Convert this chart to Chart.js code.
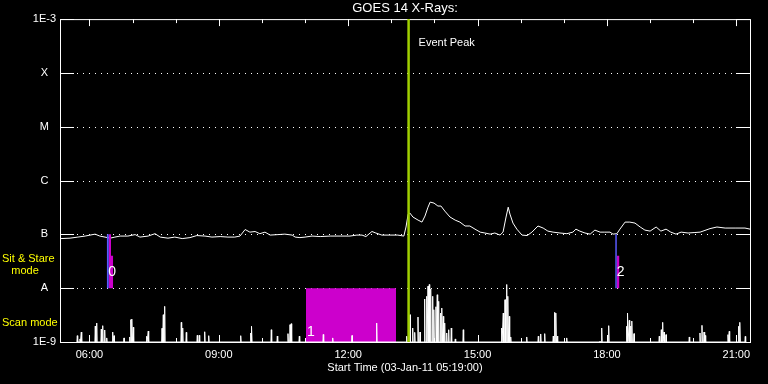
<!DOCTYPE html>
<html>
<head>
<meta charset="utf-8">
<title>GOES 14 X-Rays</title>
<script src="https://cdn.jsdelivr.net/npm/chart.js@4.4.1/dist/chart.umd.min.js"></script>
<style>
  html, body { margin: 0; padding: 0; background: #000; }
  #wrap { width: 768px; height: 384px; }
</style>
</head>
<body>
<div id="wrap"><canvas id="goesChart" width="768" height="384"></canvas></div>
<script>
// time axis in decimal hours (UT, 03-Jan-2011), flux in W/m^2
const startHour = 5 + 19 / 60;
const endHour = startHour + 16;

const xTickHours = [6, 9, 12, 15, 18, 21];
const yTickValues = [1e-9, 1e-8, 1e-7, 1e-6, 1e-5, 1e-4, 1e-3];
const yTickLabels = ['1E-9', 'A', 'B', 'C', 'M', 'X', '1E-3'];

// GOES long channel
const goesTime = [5.34, 5.55, 5.73, 5.90, 6.13, 6.24, 6.36, 6.48, 6.59, 6.71, 6.89, 7.06, 7.17, 7.36, 7.52, 7.64,
  7.82, 7.98, 8.15, 8.33, 8.49, 8.68, 8.84, 9.03, 9.21, 9.37, 9.49, 9.61, 9.72, 9.84, 9.95, 10.07, 10.19, 10.37,
  10.53, 10.70, 10.77, 10.88, 11.00, 11.16, 11.35, 11.58, 11.81, 12.04, 12.20, 12.32, 12.41, 12.55, 12.64, 12.78,
  12.97, 13.15, 13.29, 13.34, 13.39, 13.43, 13.50, 13.62, 13.71, 13.78, 13.85, 13.90, 13.99, 14.08, 14.15, 14.24,
  14.36, 14.48, 14.59, 14.71, 14.82, 14.94, 15.06, 15.17, 15.29, 15.40, 15.52, 15.59, 15.66, 15.71, 15.75, 15.82,
  15.91, 16.03, 16.15, 16.26, 16.40, 16.52, 16.63, 16.75, 16.91, 17.07, 17.21, 17.28, 17.37, 17.49, 17.61, 17.72,
  17.84, 17.95, 18.07, 18.14, 18.23, 18.30, 18.42, 18.53, 18.65, 18.77, 18.88, 19.00, 19.14, 19.25, 19.37, 19.48,
  19.60, 19.72, 19.88, 20.02, 20.16, 20.39, 20.55, 20.74, 20.97, 21.20, 21.32];
const goesFlux = [8.35e-8, 8.5e-8, 8.9e-8, 9.3e-8, 1.01e-7, 9.3e-8, 8.9e-8, 8.5e-8, 8.9e-8, 9.3e-8, 9.3e-8, 9.9e-8,
  8.9e-8, 9.3e-8, 1.03e-7, 8.9e-8, 8.5e-8, 8.9e-8, 8.35e-8, 8.7e-8, 9.5e-8, 9.3e-8, 8.9e-8, 9.1e-8, 8.9e-8, 8.9e-8,
  9.3e-8, 1.23e-7, 1.10e-7, 1.13e-7, 1.03e-7, 1.10e-7, 9.7e-8, 9.9e-8, 1.01e-7, 9.7e-8, 8.9e-8, 8.7e-8, 8.9e-8,
  9.3e-8, 9.1e-8, 9.3e-8, 9.3e-8, 9.3e-8, 9.7e-8, 9.7e-8, 9.1e-8, 1.13e-7, 1.06e-7, 9.7e-8, 9.7e-8, 9.7e-8, 9.3e-8,
  1.37e-7, 2.38e-7, 2.49e-7, 2.10e-7, 1.84e-7, 1.69e-7, 2.19e-7, 3.2e-7, 3.98e-7, 3.81e-7, 3.36e-7, 3.36e-7,
  2.71e-7, 2.10e-7, 1.84e-7, 1.69e-7, 1.43e-7, 1.43e-7, 1.25e-7, 1.10e-7, 1.06e-7, 1.01e-7, 1.06e-7, 9.7e-8,
  1.10e-7, 2.10e-7, 3.2e-7, 2.38e-7, 1.62e-7, 1.25e-7, 9.7e-8, 9.5e-8, 1.10e-7, 1.43e-7, 1.31e-7, 1.15e-7,
  1.10e-7, 1.06e-7, 1.03e-7, 1.10e-7, 1.25e-7, 1.15e-7, 1.06e-7, 1.01e-7, 1.20e-7, 1.10e-7, 1.10e-7, 1.10e-7,
  1.01e-7, 1.03e-7, 1.25e-7, 1.69e-7, 1.69e-7, 1.62e-7, 1.37e-7, 1.20e-7, 1.15e-7, 1.37e-7, 1.15e-7, 1.25e-7,
  1.10e-7, 1.01e-7, 1.10e-7, 1.06e-7, 1.08e-7, 1.10e-7, 1.28e-7, 1.37e-7, 1.31e-7, 1.31e-7, 1.31e-7, 1.25e-7];

// scan mode trace (peaks above the 1E-9 floor)
const scanTime = [5.718, 5.780, 5.811, 6.135, 6.168, 6.274, 6.307, 6.353, 6.400, 6.539, 6.569, 6.801, 6.933, 6.963,
  6.986, 7.016, 7.327, 7.364, 7.682, 7.712, 7.744, 8.129, 8.162, 8.245, 8.500, 8.547, 8.672, 8.765, 9.507, 9.739,
  9.762, 10.216, 10.356, 10.603, 10.650, 10.680, 10.866, 11.422, 11.640, 12.088, 12.660, 13.356, 13.433, 13.495,
  13.542, 13.618, 13.665, 13.773, 13.820, 13.850, 13.880, 13.913, 13.959, 13.989, 14.035, 14.065, 14.098, 14.144,
  14.174, 14.205, 14.237, 14.284, 14.330, 14.390, 14.483, 14.668, 15.559, 15.596, 15.636, 15.675, 15.705, 15.735,
  15.768, 16.139, 16.408, 16.463, 16.556, 16.755, 16.788, 16.818, 16.848, 17.066, 17.838, 17.878, 18.040, 18.457,
  18.481, 18.518, 18.550, 18.580, 18.627, 19.213, 19.260, 19.292, 19.323, 19.369, 19.909, 20.157, 20.203, 20.250,
  20.280, 20.806, 20.836, 21.054, 21.084, 21.207];
const scanPeak = [1.31e-9, 1.14e-9, 1.53e-9, 1.98e-9, 2.25e-9, 1.74e-9, 2.01e-9, 1.67e-9, 1.19e-9, 1.53e-9, 1.31e-9,
  1.19e-9, 1.24e-9, 2.60e-9, 2.67e-9, 1.88e-9, 1.28e-9, 1.60e-9, 1.80e-9, 3.21e-9, 4.60e-9, 2.32e-9, 1.82e-9,
  1.51e-9, 1.33e-9, 1.33e-9, 1.55e-9, 1.31e-9, 1.31e-9, 1.47e-9, 1.96e-9, 1.69e-9, 1.29e-9, 1.43e-9, 2.10e-9,
  2.19e-9, 1.28e-9, 1.38e-9, 1.19e-9, 1.32e-9, 2.25e-9, 1.28e-9, 3.21e-9, 1.82e-9, 1.51e-9, 2.91e-9, 1.53e-9,
  6.29e-9, 7.07e-9, 1.09e-8, 1.17e-8, 9.67e-9, 7.07e-9, 3.98e-9, 4.52e-9, 7.55e-9, 5.70e-9, 3.45e-9, 4.27e-9,
  3.00e-9, 2.25e-9, 1.47e-9, 1.69e-9, 1.82e-9, 1.14e-9, 1.69e-9, 1.82e-9, 3.45e-9, 6.11e-9, 1.17e-8, 7.07e-9,
  3.00e-9, 1.24e-9, 1.24e-9, 1.28e-9, 1.41e-9, 1.43e-9, 1.29e-9, 3.56e-9, 3.45e-9, 1.29e-9, 1.19e-9, 1.04e-9,
  1.82e-9, 2.01e-9, 1.96e-9, 3.45e-9, 2.53e-9, 1.98e-9, 2.45e-9, 1.43e-9, 1.28e-9, 1.69e-9, 2.32e-9, 1.53e-9,
  1.37e-9, 1.24e-9, 1.47e-9, 2.04e-9, 1.53e-9, 1.32e-9, 1.37e-9, 1.58e-9, 1.96e-9, 2.32e-9, 1.27e-9];
const scanFloor = 1e-9;

const eventPeakHour = 13.40;
const scanBlock = [11.02, 13.11];   // scan mode period "1"
const scanBlockTop = 1e-8;

// sit & stare periods "0" and "2"
const stareLabels = ['0', '2'];
const stareBlueStart = [6.40, 18.19];
const stareBlueEnd = [6.45, 18.23];
const stareTop = 1e-7;
const stareFloor = 1e-8;
const stare0MagentaTime = [6.45, 6.50, 6.55];
const stare0MagentaTop = [1e-7, 4e-8, 4e-8];
const stare2MagentaTime = [18.23, 18.29];
const stare2MagentaTop = [4e-8, 4e-8];

const BLUE = '#5a5aff';
const MAGENTA = '#cc00cc';
const YELLOW = '#ffff00';
const PEAK = '#a0d000';
const FONT = "'Liberation Sans', Arial, sans-serif";

Chart.defaults.color = '#ffffff';
Chart.defaults.font.family = FONT;
Chart.defaults.font.size = 11;

const pts = (xs, ys) => xs.map((t, i) => ({x: t, y: ys[i]}));

const scanPoints = [];
scanTime.forEach((t, i) => {
    scanPoints.push({x: t - 0.009, y: scanFloor}, {x: t, y: scanPeak[i]}, {x: t + 0.009, y: scanFloor});
});

const blueSets = stareBlueStart.map((s, i) => ({
    data: [{x: s, y: stareTop}, {x: stareBlueEnd[i], y: stareTop}],
    borderWidth: 0,
    backgroundColor: BLUE,
    fill: {value: stareFloor}
}));

// axes frame, level lines, ticks and in-plot labels
const goesFrame = {
    id: 'goesFrame',
    beforeDatasetsDraw(chart) {
        const {ctx, chartArea: a, scales: {x, y}} = chart;
        ctx.save();
        ctx.strokeStyle = '#ffffff';
        ctx.lineWidth = 1;
        yTickValues.forEach((v, i) => {
            const py = Math.round(y.getPixelForValue(v)) + 0.5;
            ctx.setLineDash([]);
            ctx.beginPath();
            ctx.moveTo(a.left, py); ctx.lineTo(a.left + 14, py);
            ctx.moveTo(a.right - 14, py); ctx.lineTo(a.right, py);
            ctx.stroke();
            if (i > 0 && i < yTickValues.length - 1) {
                ctx.setLineDash([1, 5]);
                ctx.beginPath();
                ctx.moveTo(a.left + 17, py); ctx.lineTo(a.right - 14, py);
                ctx.stroke();
            }
        });
        ctx.setLineDash([]);
        for (let h = Math.ceil(startHour); h <= endHour; h++) {
            const px = Math.round(x.getPixelForValue(h)) + 0.5;
            const len = h % 3 === 0 ? 7 : 4;
            ctx.beginPath();
            ctx.moveTo(px, a.top); ctx.lineTo(px, a.top + len);
            ctx.moveTo(px, a.bottom); ctx.lineTo(px, a.bottom - len);
            ctx.stroke();
        }
        ctx.strokeRect(a.left + 0.5, a.top + 0.5, a.right - a.left, a.bottom - a.top);
        ctx.restore();
    },
    afterDraw(chart) {
        const {ctx, chartArea: a, scales: {x, y}} = chart;
        const yA = y.getPixelForValue(1e-8);
        ctx.save();
        ctx.font = '11px ' + FONT;
        ctx.textBaseline = 'middle';
        ctx.fillStyle = YELLOW;
        ctx.textAlign = 'left';
        ctx.fillText('Sit & Stare', 2, yA - 29.5);
        ctx.fillText('Scan mode', 2, a.bottom - 19);
        ctx.textAlign = 'center';
        ctx.fillText('mode', 25, yA - 17.5);

        ctx.fillStyle = '#ffffff';
        ctx.textAlign = 'left';
        ctx.fillText('Event Peak', x.getPixelForValue(eventPeakHour) + 10, a.top + 24);

        ctx.font = '14px ' + FONT;
        ctx.textAlign = 'center';
        stareLabels.forEach((lab, i) => {
            ctx.fillText(lab, x.getPixelForValue(stareBlueStart[i]) + 5.5, yA - 16);
        });
        ctx.fillText('1', x.getPixelForValue(scanBlock[0]) + 5, a.bottom - 9.5);
        ctx.restore();
    }
};

const ctx = document.getElementById('goesChart').getContext('2d');
new Chart(ctx, {
    type: 'line',
    data: {
        datasets: [{
            // event peak marker
            data: [{x: eventPeakHour, y: yTickValues[0]}, {x: eventPeakHour, y: yTickValues[6]}],
            borderColor: PEAK,
            borderWidth: 2.5
        }, ...blueSets, {
            data: pts(stare0MagentaTime, stare0MagentaTop),
            stepped: true,
            borderWidth: 0,
            backgroundColor: MAGENTA,
            fill: {value: stareFloor}
        }, {
            data: pts(stare2MagentaTime, stare2MagentaTop),
            stepped: true,
            borderWidth: 0,
            backgroundColor: MAGENTA,
            fill: {value: stareFloor}
        }, {
            // GOES 1-8 A flux
            data: pts(goesTime, goesFlux),
            borderColor: '#ffffff',
            borderWidth: 1
        }, {
            // scan mode counts
            data: scanPoints,
            borderColor: '#ffffff',
            borderWidth: 1
        }, {
            data: [{x: scanBlock[0], y: scanBlockTop}, {x: scanBlock[1], y: scanBlockTop}],
            borderWidth: 0,
            backgroundColor: MAGENTA,
            fill: {value: scanFloor}
        }]
    },
    options: {
        responsive: false,
        animation: false,
        events: [],
        layout: {padding: {left: 0, right: 18, top: 0, bottom: 0}},
        elements: {
            point: {radius: 0},
            line: {tension: 0}
        },
        plugins: {
            legend: {display: false},
            tooltip: {enabled: false},
            title: {
                display: true,
                text: 'GOES 14 X-Rays:',
                color: '#ffffff',
                fullSize: false,
                font: {size: 13, weight: 'normal'},
                padding: {top: 1, bottom: 2.5}
            }
        },
        scales: {
            x: {
                type: 'linear',
                min: startHour,
                max: endHour,
                grid: {display: false, drawTicks: false},
                border: {display: false},
                afterBuildTicks: s => { s.ticks = xTickHours.map(h => ({value: h})); },
                afterFit: s => { s.height = 42; },
                ticks: {
                    autoSkip: false,
                    maxRotation: 0,
                    padding: 6,
                    color: '#ffffff',
                    callback: v => String(v).padStart(2, '0') + ':00'
                },
                title: {
                    display: true,
                    text: 'Start Time (03-Jan-11 05:19:00)',
                    color: '#ffffff',
                    font: {size: 11},
                    padding: {top: 0, bottom: 9}
                }
            },
            y: {
                type: 'logarithmic',
                min: yTickValues[0],
                max: yTickValues[yTickValues.length - 1],
                grid: {display: false, drawTicks: false},
                border: {display: false},
                afterBuildTicks: s => { s.ticks = yTickValues.map(v => ({value: v})); },
                afterFit: s => { s.width = 60; },
                ticks: {
                    autoSkip: false,
                    crossAlign: 'center',
                    padding: 4,
                    color: '#ffffff',
                    callback: (v, i) => yTickLabels[i]
                }
            }
        }
    },
    plugins: [goesFrame]
});
</script>
</body>
</html>
